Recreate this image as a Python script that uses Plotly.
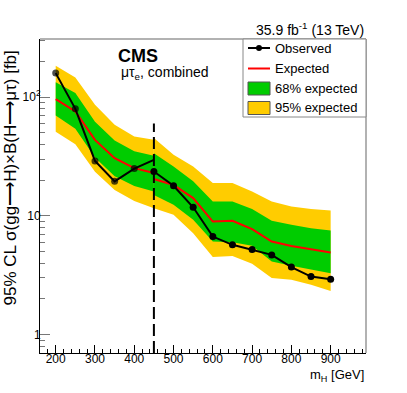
import math
import plotly.graph_objects as go

# ---------------- data ----------------
mass_low = [200, 250, 300, 350, 400, 450]
obs_low = [159, 79.6, 29.0, 19.5, 25.0, 29.6]
exp_low = [96, 75.6, 43.6, 30.6, 25.2, 22.9]
g_hi_low = [133, 108, 62, 43, 35, 32]
g_lo_low = [70, 54, 31, 21.5, 17.8, 16.0]
y_hi_low = [183, 146, 86, 58.5, 46.5, 43.6]
y_lo_low = [51, 40, 23.5, 16.5, 13.3, 11.6]

mass_high = [450, 500, 550, 600, 650, 700, 750, 800, 850, 900]
obs_high = [23.6, 17.9, 11.8, 6.69, 5.70, 5.2, 4.69, 3.70, 3.08, 2.93]
exp_high = [20.4, 18.2, 14.1, 8.95, 9.08, 7.73, 6.07, 5.58, 5.24, 4.91]
g_hi_high = [33.7, 26.0, 19.5, 13.2, 13.2, 11.4, 9.1, 8.4, 7.87, 7.52]
g_lo_high = [15.0, 12.4, 9.25, 6.07, 6.0, 5.6, 4.12, 3.8, 3.51, 3.29]
y_hi_high = [45.2, 32.7, 26.0, 18.9, 18.9, 16.0, 13.2, 12.0, 11.4, 11.1]
y_lo_high = [11.6, 10.2, 7.14, 4.49, 4.6, 3.94, 2.99, 2.89, 2.63, 2.33]

split_mass = 450
split_line_y = [0.7, 60]

x_ticks = [200, 300, 400, 500, 600, 700, 800, 900]
x_minor = [v for v in range(160, 1000, 20) if v % 100 != 0]
y_ticks = [1, 10, 100]
y_ticktext = ["1", "10", "10<sup>2</sup>"]
y_minor = [0.8, 0.9, 2, 3, 4, 5, 6, 7, 8, 9, 20, 30, 40, 50, 60, 70, 80, 90, 200, 300]

legend_labels = ["Observed", "Expected", "68% expected", "95% expected"]

GREEN = "#00cc00"
YELLOW = "#ffcc00"
RED = "#ff0000"
FONT = "Liberation Sans, Arial, sans-serif"

W, H = 407, 393
ML, MR, MT, MB = 40, 41, 39, 40
PW, PH = W - ML - MR, H - MT - MB


def px_x(p):
    return (p - ML) / PW


def px_y(p):
    return (H - MB - p) / PH


fig = go.Figure()


def band(m, hi, lo, color):
    fig.add_trace(go.Scatter(
        x=list(m) + list(m)[::-1], y=list(hi) + list(lo)[::-1],
        fill="toself", fillcolor=color, line=dict(width=0), mode="lines",
        hoverinfo="skip", showlegend=False))


for m, hi, lo in [(mass_low, y_hi_low, y_lo_low), (mass_high, y_hi_high, y_lo_high)]:
    band(m, hi, lo, YELLOW)
for m, hi, lo in [(mass_low, g_hi_low, g_lo_low), (mass_high, g_hi_high, g_lo_high)]:
    band(m, hi, lo, GREEN)

for m, e in [(mass_low, exp_low), (mass_high, exp_high)]:
    fig.add_trace(go.Scatter(x=m, y=e, mode="lines", line=dict(color=RED, width=2),
                             showlegend=False))

obs_sizes_low = [7] * (len(mass_low) - 1) + [0]
fig.add_trace(go.Scatter(x=mass_low, y=obs_low, mode="lines+markers",
                         line=dict(color="black", width=2),
                         marker=dict(color="black", size=obs_sizes_low, line=dict(width=0)),
                         showlegend=False))
fig.add_trace(go.Scatter(x=mass_high, y=obs_high, mode="lines+markers",
                         line=dict(color="black", width=2),
                         marker=dict(color="black", size=7, line=dict(width=0)),
                         showlegend=False))

fig.add_trace(go.Scatter(x=[split_mass, split_mass], y=split_line_y, mode="lines",
                         line=dict(color="black", width=2, dash="12px,5px"),
                         showlegend=False))

fig.update_layout(
    width=W, height=H,
    margin=dict(l=ML, r=MR, t=MT, b=MB, autoexpand=False),
    paper_bgcolor="white", plot_bgcolor="white",
    font=dict(family=FONT, color="black", size=13),
    showlegend=False,
    xaxis=dict(range=[160, 990], tickvals=x_ticks, ticks="inside", ticklen=8,
               tickcolor="black", showline=True, linecolor="black", linewidth=1,
               showgrid=False, zeroline=False, tickfont=dict(size=12),
               ticklabelstandoff=-5, automargin=False,
               minor=dict(tickvals=x_minor, ticks="inside", ticklen=4, tickcolor="black")),
    yaxis=dict(type="log", range=[math.log10(0.7), math.log10(308)],
               tickvals=y_ticks, ticktext=y_ticktext, ticks="inside", ticklen=10,
               tickcolor="#777", showline=True, linecolor="black", linewidth=1,
               showgrid=False, zeroline=False, tickfont=dict(size=12),
               ticklabelstandoff=-4, automargin=False,
               minor=dict(tickvals=y_minor, ticks="inside", ticklen=5, tickcolor="#777")),
)

# top / right frame in grey
fig.add_shape(type="line", xref="paper", yref="paper", x0=0, x1=1, y0=1, y1=1,
              line=dict(color="#999", width=1.5))
fig.add_shape(type="line", xref="paper", yref="paper", x0=1, x1=1, y0=0, y1=1,
              line=dict(color="#999", width=1.5))

# ---- legend (drawn by hand to match layout) ----
fig.add_shape(type="rect", xref="paper", yref="paper", x0=px_x(243), x1=1,
              y0=px_y(117), y1=1, fillcolor="white", layer="above",
              line=dict(color="#888", width=1))
rows = [48, 68.5, 88.5, 108]
sx0, sx1 = 248, 270
# Observed
fig.add_shape(type="line", xref="paper", yref="paper", x0=px_x(sx0), x1=px_x(sx1),
              y0=px_y(rows[0]), y1=px_y(rows[0]), layer="above",
              line=dict(color="black", width=2))
fig.add_shape(type="circle", xref="paper", yref="paper", x0=px_x(256), x1=px_x(262),
              y0=px_y(rows[0] + 3), y1=px_y(rows[0] - 3), layer="above",
              fillcolor="black", line=dict(width=0))
# Expected
fig.add_shape(type="line", xref="paper", yref="paper", x0=px_x(sx0), x1=px_x(sx1),
              y0=px_y(rows[1]), y1=px_y(rows[1]), layer="above",
              line=dict(color=RED, width=2))
# bands
for r, col in [(rows[2], GREEN), (rows[3], YELLOW)]:
    fig.add_shape(type="rect", xref="paper", yref="paper", x0=px_x(sx0), x1=px_x(sx1),
                  y0=px_y(r + 6.5), y1=px_y(r - 6.5), layer="above",
                  fillcolor=col, line=dict(color="#555", width=1))
for r, lab in zip(rows, legend_labels):
    fig.add_annotation(text=lab, xref="paper", yref="paper", x=px_x(273), y=px_y(r),
                       xanchor="left", yanchor="middle", showarrow=False,
                       font=dict(size=13))

fig.add_annotation(text="<b>CMS</b>", xref="paper", yref="paper", x=px_x(116), y=px_y(56),
                   xanchor="left", yanchor="middle", showarrow=False, font=dict(size=18))
fig.add_annotation(text="μτ<sub>e</sub>, combined", xref="paper", yref="paper",
                   x=px_x(119), y=px_y(73), xanchor="left", yanchor="middle", showarrow=False,
                   font=dict(size=14))
fig.add_annotation(text="35.9 fb<sup>-1</sup> (13 TeV)", xref="paper", yref="paper",
                   x=1, y=px_y(29), xanchor="right", yanchor="middle", showarrow=False,
                   font=dict(size=14))
fig.add_annotation(text="m<sub>H</sub> [GeV]", xref="paper", yref="paper",
                   x=1, y=px_y(375), xanchor="right", yanchor="middle", showarrow=False,
                   font=dict(size=13))
fig.add_annotation(text="95% CL σ(gg⟶H)×B(H⟶μτ) [fb]", xref="paper", yref="paper",
                   x=px_x(10), y=px_y(49), xanchor="center", yanchor="top", textangle=-90,
                   showarrow=False, font=dict(size=17))

fig.write_html("out.html", config={"displayModeBar": False, "staticPlot": True},
               post_script="document.body.style.margin='0px';document.body.style.overflow='hidden';")
